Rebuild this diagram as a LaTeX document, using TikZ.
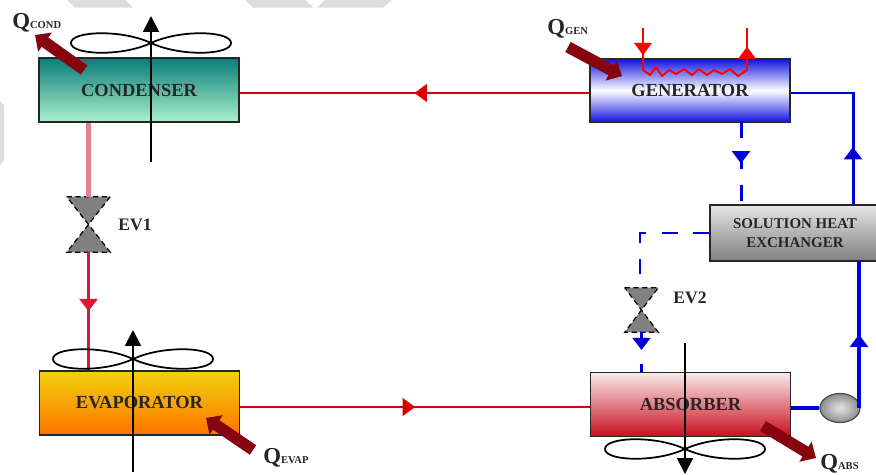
\documentclass[tikz,border=0pt]{standalone}
\usepackage{fontspec}
\setmainfont{Liberation Serif}
\usetikzlibrary{arrows.meta,decorations.markings,shapes.geometric}
\definecolor{tealtop}{RGB}{10,125,120}
\definecolor{tealbot}{RGB}{170,240,205}
\definecolor{evaptop}{RGB}{240,210,10}
\definecolor{evapbot}{RGB}{255,115,0}
\definecolor{abstop}{RGB}{250,235,235}
\definecolor{absbot}{RGB}{200,15,30}
\definecolor{genblue}{RGB}{15,15,225}
\definecolor{heatred}{RGB}{135,5,15}
\definecolor{paleline}{RGB}{225,130,140}
\definecolor{redline}{RGB}{215,25,50}
\definecolor{stripe}{RGB}{221,221,221}
\tikzset{
  box/.style={draw=black!85, line width=0.9pt, inner sep=0pt, minimum width=4cm, minimum height=1.28cm,
    font=\fontsize{10.5}{11}\selectfont\bfseries, text=black!85},
  valve/.style={draw=black, densely dashed, line width=0.7pt, fill=black!50},
  valvebox/.style={inner sep=0pt, minimum width=#1},
  refr/.style={draw=red!85!black, line width=1.3pt},
  sol/.style={draw=blue!85!black, line width=1.7pt},
  soldash/.style={sol, dash pattern=on 9pt off 9pt},
  midtip/.style={decoration={markings, mark=at position #1 with {\arrow{Triangle[width=10pt,length=7pt]}}}, postaction={decorate}},
  heat/.style={draw=heatred, line width=6.5pt, -{Triangle[width=13pt,length=7pt]}},
  fanaxis/.style={draw=black, line width=1.1pt, -{Triangle[width=9pt,length=9pt]}},
  lbl/.style={inner sep=0pt, anchor=west, font=\fontsize{10}{10}\selectfont\bfseries, text=black!85},
}
\newcommand{\qlabel}[1]{{\fontsize{13}{13}\selectfont Q}{\fontsize{6}{6}\selectfont #1}}
\begin{document}
\begin{tikzpicture}[x=0.02cm, y=-0.02cm]
  \useasboundingbox (0,0) rectangle (876,474);
  \fill[stripe] (67,0) -- (125,0) -- (133,7.5) -- (75,7.5) -- cycle;
  \fill[stripe] (245,0) -- (305,0) -- (313,7.5) -- (253,7.5) -- cycle;
  \fill[stripe] (325,0) -- (392,0) -- (383,7.5) -- (317,7.5) -- cycle;
  \fill[stripe] (0,101) -- (4,105) -- (4,160) -- (0,165) -- cycle;

  \node[box, top color=tealtop, bottom color=tealbot] (cond) at (139,90) {CONDENSER};
  \node[box, top color=genblue, bottom color=genblue, middle color=white] (gen) at (690,90.5) {GENERATOR};
  \node[box, top color=evaptop, bottom color=evapbot] (evap) at (139.5,403) {EVAPORATOR};
  \node[box, top color=abstop, bottom color=absbot] (abs) at (690.5,404.5) {ABSORBER};
  \node[box, minimum width=3.4cm, minimum height=1.12cm, align=center, top color=black!10, bottom color=black!50,
    font=\fontsize{8.5}{10.5}\selectfont\bfseries] (shx) at (795,233) {SOLUTION HEAT\\EXCHANGER};
  \node[ellipse, draw=black!70, line width=0.7pt, inner sep=0pt, minimum width=0.8cm, minimum height=0.58cm,
    inner color=black!10, outer color=black!45] (pump) at (840,408) {};

  \node[valvebox=0.86cm, minimum height=1.1cm] (ev1) at (88.5,224.5) {};
  \node[valvebox=0.66cm, minimum height=0.88cm] (ev2) at (641.5,310) {};
  \foreach \v in {ev1,ev2}{
    \draw[valve] (\v.north west) -- (\v.north east) -- (\v.south west) -- (\v.south east) -- cycle;
  }
  \node[lbl] (ev1lbl) at (118,225) {EV1};
  \node[lbl] (ev2lbl) at (673,298) {EV2};

  \coordinate (high) at (0,93);
  \coordinate (low) at (0,407);
  \coordinate (bend) at (853,93);
  \coordinate (corner) at (640,233);
  \draw[refr, midtip=0.5] (gen.west |- high) -- (cond.east |- high);
  \draw[refr, midtip=0.5] (evap.east |- low) -- (abs.west |- low);
  \draw[draw=paleline, line width=2.3pt] (ev1.north |- cond.south) -- (ev1.north);
  \draw[draw=redline, line width=1.8pt, midtip=0.5] (ev1.south) -- (ev1.south |- evap.north);
  \draw[sol, midtip=0.33] (bend |- shx.north) -- (bend) -- (gen.east |- high);
  \draw[sol, line width=2.2pt, midtip=0.5] (859,408) -- (859,261);
  \draw[sol, line width=2.2pt] (abs.east |- pump) -- (pump);
  \draw[soldash, midtip=0.5] (741,122) -- (741,205);
  \draw[soldash] (shx.west) -- (corner) -- (corner |- ev2.north);
  \draw[soldash, midtip=0.45] (ev2.south) -- (ev2.south |- abs.north);

  \coordinate (gin) at (643,28);
  \coordinate (gout) at (747,28);
  \draw[draw=red, line width=1.1pt, midtip=0.85] (gin) -- (643,60);
  \draw[draw=red, line width=1.1pt, midtip=0.45] (747,62) -- (gout);
  \draw[draw=red, line width=1.1pt] (643,60) -- (643,70) -- (650,75) -- (656,67) -- (662,76) -- (669,70) -- (676,74)
    -- (684,69) -- (692,75) -- (699,69) -- (707,75) -- (714,70) -- (722,74) -- (730,69) -- (738,76) -- (747,70) -- (747,62);

  \foreach \x/\y in {151/43, 133/359, 685/449}{
    \draw[line width=1pt] (\x,\y) .. controls (\x+30,\y-14) and (\x+80,\y-12) .. (\x+80,\y)
      .. controls (\x+80,\y+12) and (\x+30,\y+14) .. (\x,\y)
      .. controls (\x-30,\y-14) and (\x-80,\y-12) .. (\x-80,\y)
      .. controls (\x-80,\y+12) and (\x-30,\y+14) .. (\x,\y);
  }
  \coordinate (f1a) at (151,162);
  \coordinate (f1b) at (151,16);
  \coordinate (f2a) at (133,472);
  \coordinate (f2b) at (133,330);
  \coordinate (f3a) at (685,343);
  \coordinate (f3b) at (685,474);
  \draw[fanaxis] (f1a) -- (f1b);
  \draw[fanaxis] (f2a) -- (f2b);
  \draw[fanaxis] (f3a) -- (f3b);

  \coordinate (qc1) at (84,70);
  \coordinate (qc2) at (35,35);
  \coordinate (qg1) at (568,47);
  \coordinate (qg2) at (622,76);
  \coordinate (qe1) at (253,450);
  \coordinate (qe2) at (206,418);
  \coordinate (qa1) at (763,426);
  \coordinate (qa2) at (816,458);
  \draw[heat] (qc1) -- (qc2);
  \draw[heat] (qg1) -- (qg2);
  \draw[heat] (qe1) -- (qe2);
  \draw[heat] (qa1) -- (qa2);

  \node[lbl] (qcond) at (12,23) {\qlabel{COND}};
  \node[lbl] (qgen) at (547,29) {\qlabel{GEN}};
  \node[lbl] (qevap) at (263,458) {\qlabel{EVAP}};
  \node[lbl] (qabs) at (820,464) {\qlabel{ABS}};
\end{tikzpicture}
\end{document}
